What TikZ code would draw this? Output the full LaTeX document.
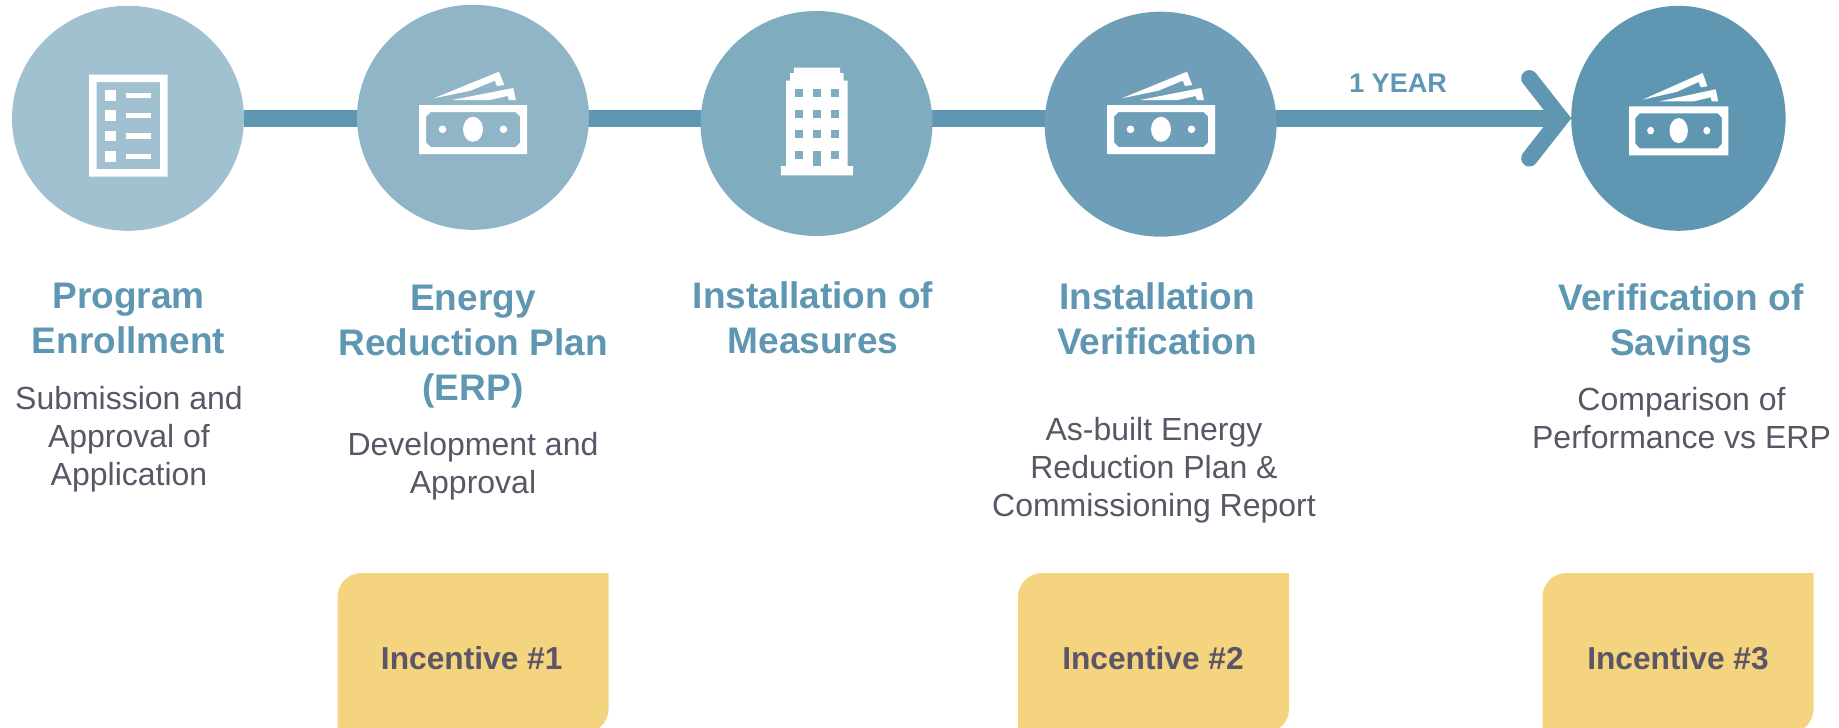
\documentclass[tikz,border=0pt]{standalone}
\usepackage{fontspec}
\setmainfont{Liberation Sans}
\usetikzlibrary{shapes.geometric,backgrounds}
\definecolor{cone}{HTML}{A1C1D0}
\definecolor{ctwo}{HTML}{90B5C6}
\definecolor{cthree}{HTML}{7FACBF}
\definecolor{cfour}{HTML}{6F9FB8}
\definecolor{cfive}{HTML}{5F97B2}
\definecolor{bodytext}{HTML}{5C5566}
\definecolor{gold}{HTML}{F4D47F}
\tikzset{
  stepcircle/.style={ellipse,inner sep=0pt,minimum width=232pt,minimum height=225pt},
  head/.style={inner sep=0pt,anchor=north,align=center,text=cfive,font=\fontsize{37}{45}\selectfont\bfseries},
  desc/.style={inner sep=0pt,anchor=north,align=center,text=bodytext,font=\fontsize{32}{38}\selectfont},
  inclabel/.style={inner sep=0pt,text=bodytext,font=\fontsize{31.7}{38}\selectfont\bfseries},
  bar/.style={draw=cfive,line width=16.5pt},
  icon/.style={fill=white,even odd rule},
  bill/.pic={
    \fill[icon] (-54,-24.3) rectangle (54,24.7)
      (-42.5,-17.3) -- (42.5,-17.3) -- (47,-12.8) -- (47,13.2) -- (42.5,17.7) -- (-42.5,17.7) -- (-47,13.2) -- (-47,-12.8) -- cycle;
    \fill[white] (0,0) ellipse [x radius=10,y radius=12.5];
    \fill[white] (-30.5,0) ellipse [x radius=3.8,y radius=3.8];
    \fill[white] (30.5,0) ellipse [x radius=3.8,y radius=3.8];
    \fill[white] (-39.2,-31) -- (26,-57.6) -- (31.2,-44.3) -- (24,-43.3) -- (21.7,-48.6) -- (-2.5,-38.6) -- cycle;
    \fill[white] (-21,-29.3) -- (40.2,-41.3) -- (43,-29.3) -- (35.9,-29.3) -- (34.7,-33.3) -- (16.5,-29.3) -- cycle;
  },
  incbox/.pic={
    \fill[gold] (0,160) -- (0,24) .. controls (0,10.7) and (10.7,0) .. (24,0) -- (271,0) -- (271,136) .. controls (271,149.3) and (260.3,160) .. (247,160) -- cycle;
  }
}
\begin{document}
\begin{tikzpicture}[x=1pt,y=-1pt]
\clip (0,0) rectangle (1839,728);
% circles
\node[stepcircle,fill=cone] (c1) at (128,118.3) {};
\node[stepcircle,fill=ctwo] (c2) at (473,117.3) {};
\node[stepcircle,fill=cthree] (c3) at (816.5,123.5) {};
\node[stepcircle,fill=cfour] (c4) at (1160.6,124.2) {};
\node[stepcircle,fill=cfive,minimum width=214.4pt] (c5) at (1678.4,118.3) {};
\coordinate (tip) at (1560.8,118.3);
\coordinate (chevtop) at (1529.4,78.3);
\coordinate (chevbot) at (1529.4,158.3);
% connectors
\begin{scope}[on background layer]
\draw[bar] (c1) -- (c1 -| c2);
\draw[bar] (c1 -| c2) -- (c1 -| c3);
\draw[bar] (c1 -| c3) -- (c1 -| c4);
\draw[bar] (c1 -| c4) -- (tip);
\end{scope}
\draw[bar,line cap=round,line join=miter,miter limit=10] (chevtop) -- (tip) -- (chevbot);
\node[inner sep=0pt,text=cfive,font=\fontsize{27}{30}\selectfont\bfseries] (year) at (1398,83) {1 YEAR};
% document icon
\fill[icon] (89,74.7) rectangle (167.7,176.7) (96.5,82) rectangle (160,169);
\foreach \a/\b in {90/101,110.3/120.7,131/141.3,151/162} \fill[white] (105.2,\a) rectangle (115.9,\b);
\foreach \a/\b in {92.7/98,113/118.3,133/139,153.7/159} \fill[white] (125.7,\a) rectangle (151,\b);
% building icon
\fill[white] (786,166) -- (786,80.7) -- (790,80.7) -- (790,73) -- (793.9,73) -- (793.9,67.7) -- (840,67.7) -- (840,73) -- (843.7,73) -- (843.7,80.7) -- (847.7,80.7) -- (847.7,166) -- (853.2,166) -- (853.2,175.3) -- (780.8,175.3) -- (780.8,166) -- cycle;
\foreach \a/\b in {89.3/97,110/117.7,130.3/138,151/158.7}
  \foreach \p/\q in {795/803,812.9/821.2,831/839} \fill[cthree] (\p,\a) rectangle (\q,\b);
\fill[cthree] (812.9,151) rectangle (821.2,166);
% money icons
\pic at (473,129.3) {bill};
\pic at (1161,129.3) {bill};
\pic[xscale=0.92] at (1678.7,130.6) {bill};
% headings
\node[head] (h1) at (128.5,283) {Program\\Enrollment};
\node[head] (h2) at (473,284.4) {Energy\\Reduction Plan\\(ERP)};
\node[head] (h3) at (813,281.4) {Installation of\\Measures};
\node[head] (h4) at (1157,282.4) {Installation\\Verification};
\node[head] (h5) at (1681,283.2) {Verification of\\Savings};
% descriptions
\node[desc] (d1) at (129,386) {Submission and\\Approval of\\Application};
\node[desc] (d2) at (473,432) {Development and\\Approval};
\node[desc] (d4) at (1154,417) {As-built Energy\\Reduction Plan \&\\Commissioning Report};
\node[desc] (d5) at (1681.5,387.5) {Comparison of\\Performance vs ERP};
% incentive boxes
\pic at (337.5,573) {incbox};
\pic at (1018,573) {incbox};
\pic at (1542.5,573) {incbox};
\node[inclabel] (i1) at (471.7,658.5) {Incentive \#1};
\node[inclabel] (i2) at (1153,658.5) {Incentive \#2};
\node[inclabel] (i3) at (1678,658.5) {Incentive \#3};
\end{tikzpicture}
\end{document}
